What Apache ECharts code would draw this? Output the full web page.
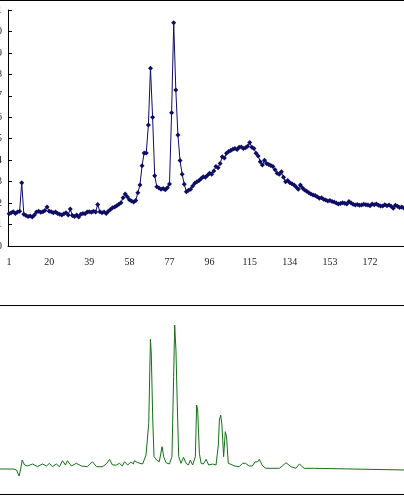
<!DOCTYPE html>
<html>
<head>
<meta charset="utf-8">
<script src="https://cdn.jsdelivr.net/npm/echarts@6/dist/echarts.min.js"></script>
<style>
  html, body { margin: 0; padding: 0; background: #fff; }
  #chart { width: 404px; height: 496px; }
</style>
</head>
<body>
<div id="chart"></div>
<script>
// top spectrum: channel 1..190
const spectrum = [
  1.50, 1.55, 1.60, 1.52, 1.58, 1.62, 2.95, 1.48, 1.42, 1.38,
  1.40, 1.35, 1.45, 1.58, 1.62, 1.57, 1.60, 1.65, 1.82, 1.62,
  1.60, 1.55, 1.58, 1.52, 1.48, 1.45, 1.50, 1.55, 1.45, 1.72,
  1.42, 1.38, 1.45, 1.35, 1.48, 1.52, 1.50, 1.58, 1.60, 1.57,
  1.62, 1.58, 1.94, 1.60, 1.55, 1.58, 1.52, 1.62, 1.70, 1.78,
  1.82, 1.88, 1.95, 2.02, 2.25, 2.42, 2.30, 2.15, 2.10, 2.05,
  2.12, 2.48, 2.84, 3.74, 4.34, 4.34, 5.64, 8.28, 6.00, 3.28,
  2.76, 2.70, 2.65, 2.68, 2.62, 2.72, 2.89, 6.21, 10.41, 7.27,
  5.17, 3.98, 3.34, 2.88, 2.53, 2.60, 2.64, 2.80, 2.92, 3.00,
  3.05, 3.15, 3.23, 3.20, 3.30, 3.39, 3.35, 3.50, 3.70, 3.65,
  3.85, 4.16, 4.10, 4.32, 4.40, 4.45, 4.51, 4.55, 4.50, 4.60,
  4.62, 4.55, 4.58, 4.65, 4.82, 4.60, 4.55, 4.32, 4.20, 3.93,
  3.78, 4.00, 3.85, 3.80, 3.75, 3.70, 3.55, 3.39, 3.35, 3.46,
  3.20, 3.00, 3.05, 2.95, 2.90, 2.84, 2.75, 2.64, 2.84, 2.70,
  2.61, 2.55, 2.48, 2.42, 2.38, 2.35, 2.30, 2.22, 2.25, 2.18,
  2.14, 2.10, 2.12, 2.07, 2.05, 2.00, 1.96, 1.98, 2.02, 1.99,
  1.96, 2.07, 2.00, 1.95, 1.91, 1.94, 1.90, 1.91, 1.95, 1.92,
  1.91, 1.88, 1.96, 1.92, 1.96, 1.90, 1.86, 1.86, 1.92, 1.88,
  1.91, 1.85, 1.76, 1.90, 1.85, 1.80, 1.82, 1.77, 1.78, 1.75
]
const channelCount = 190
const channels = []
for (let i = 1; i <= channelCount; i++) channels.push(String(i))

// bottom trace (channel position, intensity)
const traceX = [
  -3.5, 3.4, 4.8, 6.0, 6.7, 7.5, 8.6, 10.0, 12.4, 14.7,
  17.1, 19.0, 20.4, 21.8, 23.7, 25.2, 26.6, 28.0, 29.0, 30.8,
  33.2, 35.6, 38.4, 40.8, 42.7, 45.5, 47.4, 48.9, 50.3, 52.2,
  53.6, 55.0, 56.0, 57.5, 59.1, 60.2, 60.7, 62.3, 63.1, 64.6,
  66.2, 67.5, 68.3, 68.7, 69.4, 70.0, 71.3, 72.5, 73.8, 74.6,
  75.7, 77.3, 78.5, 79.3, 79.8, 80.4, 81.1, 81.7, 82.8, 84.0,
  85.2, 86.3, 87.2, 88.3, 89.6, 90.2, 90.7, 91.5, 92.3, 93.4,
  94.7, 95.9, 97.8, 99.4, 100.5, 101.0, 101.6, 102.2, 103.0, 103.8,
  104.4, 105.2, 106.5, 108.1, 110.4, 112.0, 113.3, 115.2, 116.6, 118.0,
  119.0, 119.9, 121.5, 123.1, 129.4, 130.8, 132.6, 134.9, 137.3, 138.9,
  141.2, 146.0, 146.8, 189.0
]
const traceY = [
  0.0, 0.0, -0.1, -0.7, -0.1, 0.9, 0.4, 0.3, 0.5, 0.23,
  0.5, 0.3, 0.57, 0.23, 0.5, 0.23, 0.83, 0.4, 0.83, 0.3,
  0.57, 0.3, 0.23, 0.73, 0.23, 0.23, 0.5, 0.97, 0.4, 0.4,
  0.57, 0.3, 0.73, 0.4, 0.7, 0.5, 0.83, 0.63, 0.83, 0.5,
  1.4, 4.57, 12.97, 11.6, 4.9, 1.23, 0.9, 0.73, 2.23, 1.23,
  0.63, 0.5, 1.23, 9.23, 14.4, 11.9, 5.9, 1.23, 0.57, 1.17,
  0.57, 0.4, 0.9, 0.4, 1.23, 6.4, 5.9, 1.57, 0.57, 0.5,
  0.97, 0.4, 0.5, 0.4, 2.4, 4.9, 5.4, 4.4, 1.23, 3.73,
  3.23, 0.57, 0.47, 0.3, 0.23, 0.57, 0.57, 0.3, 0.3, 0.73,
  0.7, 0.97, 0.3, 0.07, 0.07, 0.3, 0.63, 0.23, 0.07, 0.5,
  0.07, 0.07, -0.1, -0.1
]

const labelFont = { fontFamily: 'Liberation Serif', fontSize: 10, color: '#222' }

const chart = echarts.init(document.getElementById('chart'))
chart.setOption({
  animation: false,
  backgroundColor: '#fff',
  graphic: [
    { type: 'line', shape: { x1: 0, y1: 0.5, x2: 404, y2: 0.5 }, style: { stroke: '#000', lineWidth: 1 } },
    { type: 'line', shape: { x1: 0, y1: 305.5, x2: 404, y2: 305.5 }, style: { stroke: '#000', lineWidth: 1 } },
    { type: 'line', shape: { x1: 0, y1: 494.5, x2: 404, y2: 494.5 }, style: { stroke: '#000', lineWidth: 1 } }
  ],
  grid: [
    { left: 8, top: 10, height: 236, width: channelCount * 2.111, outerBoundsMode: 'none', containLabel: false },
    { left: -1, right: -1, top: 305, height: 190, outerBoundsMode: 'none', containLabel: false }
  ],
  xAxis: [
    {
      type: 'category',
      gridIndex: 0,
      data: channels,
      axisLine: { lineStyle: { color: '#000', width: 1 } },
      axisTick: { interval: 0, inside: true, length: 3, lineStyle: { color: '#000' } },
      axisLabel: { interval: 18, margin: 11, ...labelFont },
      splitLine: { show: false }
    },
    {
      type: 'value',
      gridIndex: 1,
      min: -3.5,
      max: 189,
      show: false
    }
  ],
  yAxis: [
    {
      type: 'value',
      gridIndex: 0,
      min: 0,
      max: 11,
      interval: 1,
      axisLine: { show: true, lineStyle: { color: '#000', width: 1 } },
      axisTick: { show: true, inside: true, length: 4, lineStyle: { color: '#000' } },
      axisLabel: { margin: 6, ...labelFont },
      splitLine: { show: false }
    },
    {
      type: 'value',
      gridIndex: 1,
      min: -2.6,
      max: 16.4,
      show: false
    }
  ],
  series: [
    {
      type: 'line',
      xAxisIndex: 0,
      yAxisIndex: 0,
      data: spectrum,
      symbol: 'diamond',
      symbolSize: 5,
      showAllSymbol: true,
      lineStyle: { color: '#0d0d66', width: 1 },
      itemStyle: { color: '#0d0d66' }
    },
    {
      type: 'line',
      xAxisIndex: 1,
      yAxisIndex: 1,
      data: traceX.map((x, i) => [x, traceY[i]]),
      symbol: 'none',
      lineStyle: { color: '#16701a', width: 1 }
    }
  ]
})
</script>
</body>
</html>
